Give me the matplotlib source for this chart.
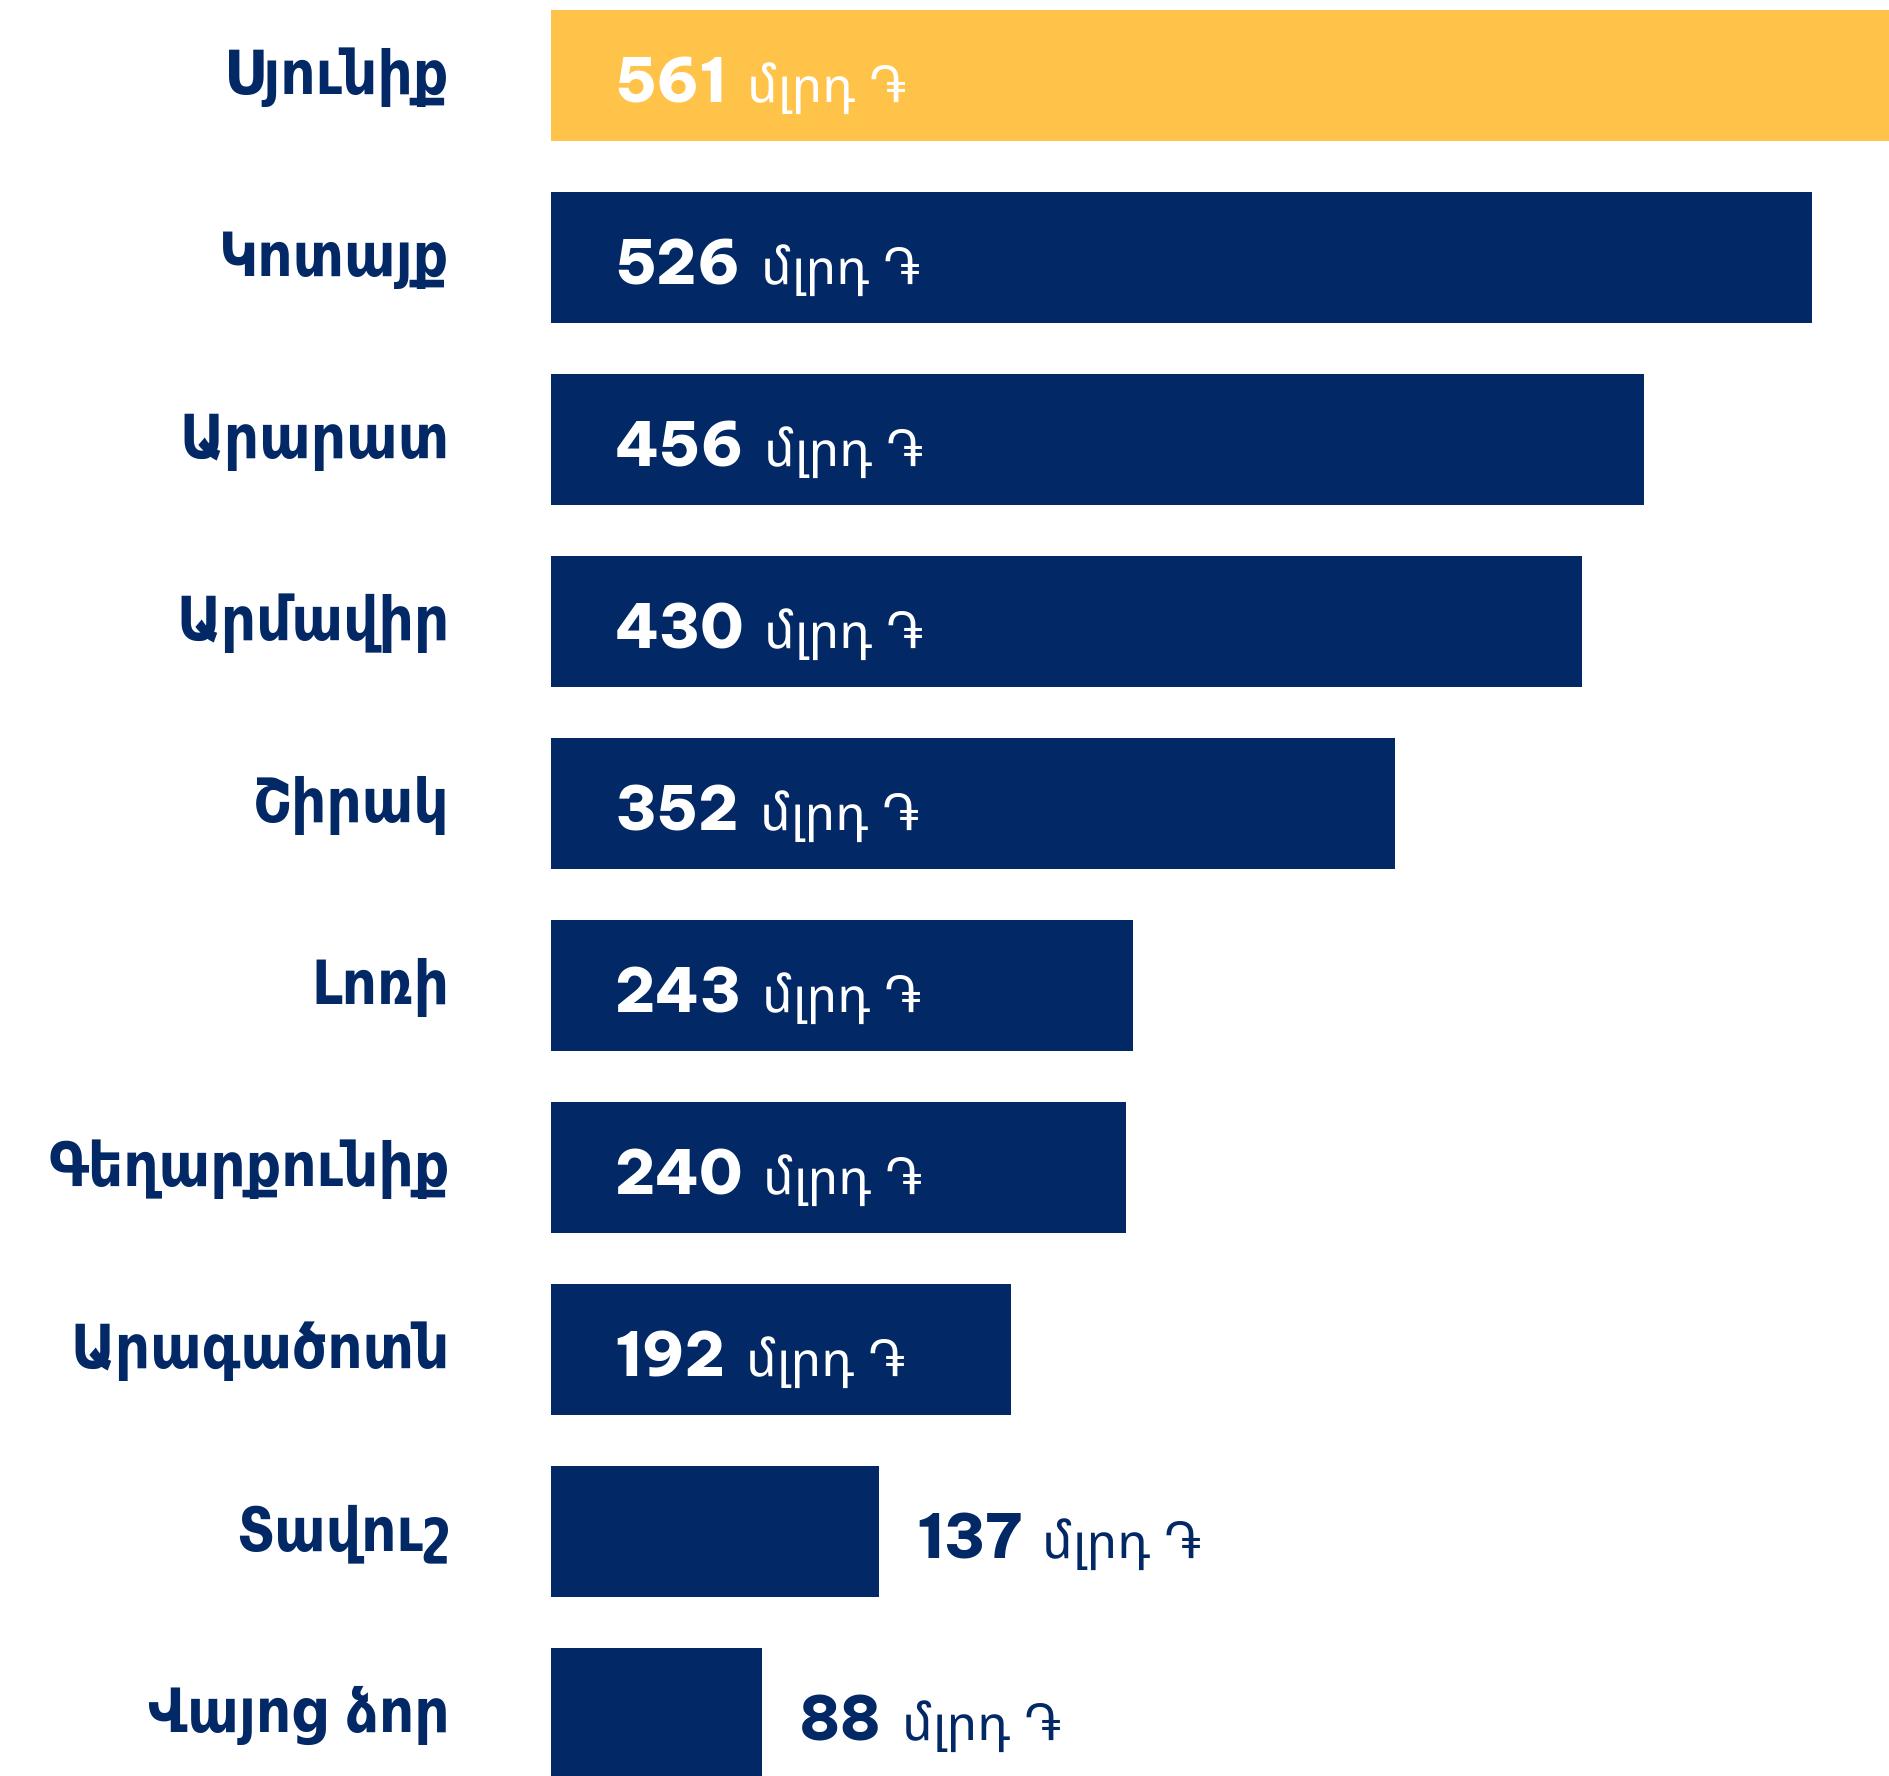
import matplotlib
matplotlib.use("Agg")
import matplotlib.pyplot as plt

regions = ["Սյունիք", "Կոտայք", "Արարատ", "Արմավիր", "Շիրակ", "Լոռի",
           "Գեղարքունիք", "Արագածոտն", "Տավուշ", "Վայոց ձոր"]
values = [561, 526, 456, 430, 352, 243, 240, 192, 137, 88]
unit = "մլրդ ֏"
highlight = "Սյունիք"

NAVY = "#022866"
GOLD = "#FFC34A"
W, H, DPI = 1889, 1776, 100

fig = plt.figure(figsize=(W / DPI, H / DPI), dpi=DPI)
left_px = 550.5
ax = fig.add_axes([left_px / W, 0, 1 - left_px / W, 1])
px_per_unit = 2.398
ax.set_xlim(0, (W - left_px) / px_per_unit)
spacing = 182.0
first_c = 75.3
ax.set_ylim((H - first_c) / spacing, -first_c / spacing)
ax.axis("off")

colors = [GOLD if r == highlight else NAVY for r in regions]
ypos = list(range(len(regions)))
ax.barh(ypos, values, height=131 / spacing, color=colors, left=0)

num_font = dict(family=["Be Vietnam Pro", "Inter", "DejaVu Sans"], weight=800, fontsize=44)
unit_font = dict(family=["Noto Sans Armenian", "DejaVu Sans"], weight="normal", fontsize=37)
lab_font = dict(family=["DejaVu Sans"], weight="bold", stretch="condensed", fontsize=44)

for i, (r, v) in enumerate(zip(regions, values)):
    inside = v > 150
    tc = "white" if inside else NAVY
    if inside:
        num = ax.annotate(str(v), xy=(0, i), xycoords="data", xytext=(64, -27),
                          textcoords="offset pixels", ha="left", va="baseline",
                          color=tc, **num_font)
    else:
        num = ax.annotate(str(v), xy=(v, i), xycoords="data", xytext=(37, -27),
                          textcoords="offset pixels", ha="left", va="baseline",
                          color=tc, **num_font)
    ax.annotate(unit, xy=(1, i), xycoords=(num, "data"), xytext=(20, -27),
                textcoords="offset pixels", ha="left", va="baseline",
                color=tc, **unit_font)
    ax.annotate(r, xy=(0, i), xycoords="data", xytext=(-(left_px - 449.5), -19),
                textcoords="offset pixels", ha="right", va="baseline",
                color=NAVY, annotation_clip=False, **lab_font)

fig.savefig("out.png", dpi=DPI, facecolor="white")
